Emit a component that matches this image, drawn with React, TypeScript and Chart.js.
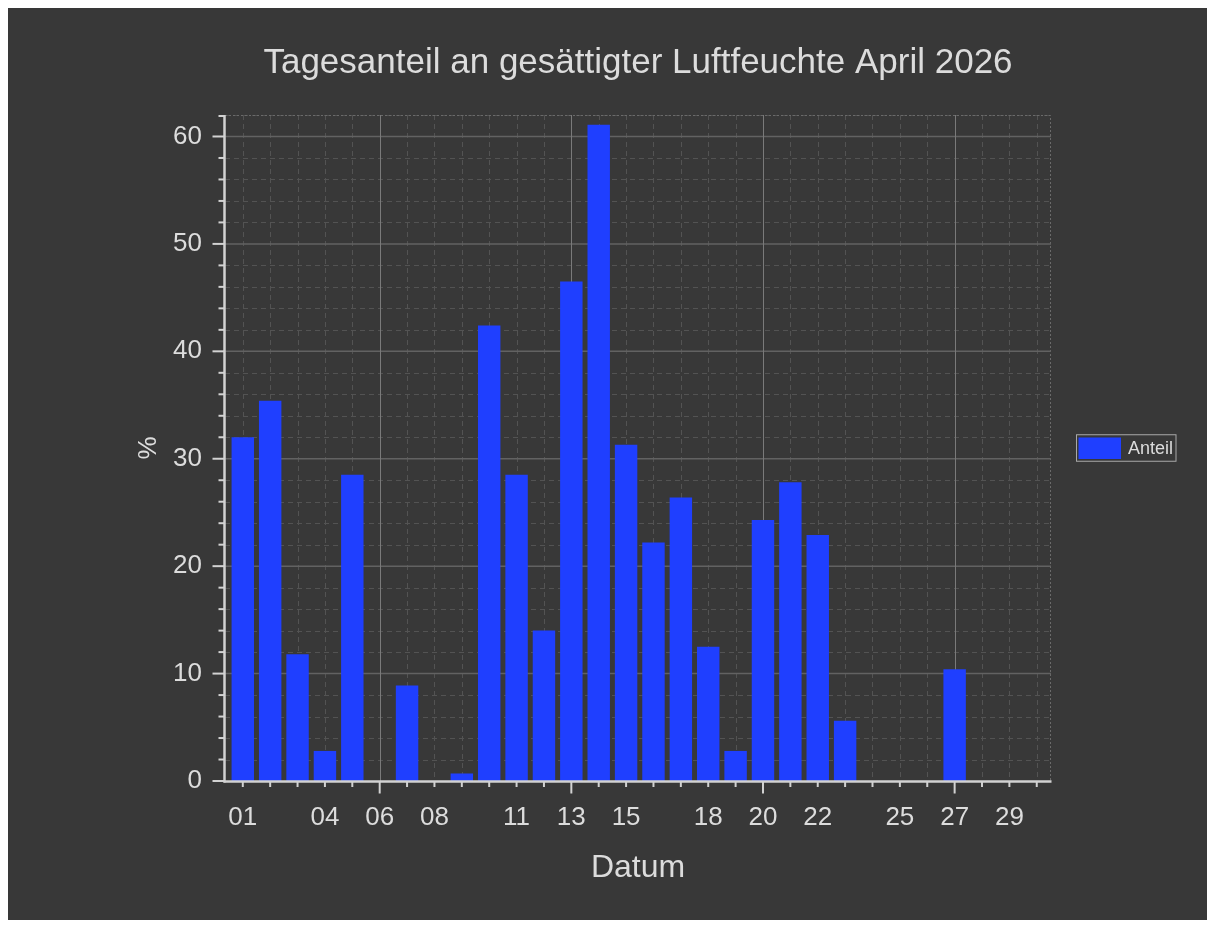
import React, { useEffect, useRef } from 'react';
import { Chart, registerables } from 'chart.js';

Chart.register(...registerables);

// ---- data ----
const days = [1, 2, 3, 4, 5, 6, 7, 8, 9, 10, 11, 12, 13, 14, 15, 16, 17, 18, 19, 20, 21, 22, 23, 24, 25, 26, 27, 28, 29, 30];
const anteil = [32.0, 35.4, 11.8, 2.8, 28.5, 0, 8.9, 0, 0.7, 42.4, 28.5, 14.0, 46.5, 61.1, 31.3, 22.2, 26.4, 12.5, 2.8, 24.3, 27.8, 22.9, 5.6, 0, 0, 0, 10.4, 0, 0, 0];
const xLabelDays = [1, 4, 6, 8, 11, 13, 15, 18, 20, 22, 25, 27, 29];
const xMajorDays = [6, 13, 20, 27];
const yTicks = [0, 10, 20, 30, 40, 50, 60];
const yMinorTicks = [2, 4, 6, 8, 12, 14, 16, 18, 22, 24, 26, 28, 32, 34, 36, 38, 42, 44, 46, 48, 52, 54, 56, 58, 62];
const xRange = [0.35, 30.52];
const yRange = [0, 62];

const TITLE = 'Tagesanteil an gesättigter Luftfeuchte April 2026';
const SERIES = 'Anteil';
const X_TITLE = 'Datum';
const Y_TITLE = '%';

const BG = '#383838';
const BAR = '#1f3fff';
const TEXT = '#dcdcdc';
const AXIS = '#d2d2d2';
const FONT = '"Liberation Sans", Arial, sans-serif';

const decorPlugin = {
  id: 'decor',
  beforeDraw(chart: any) {
    const { ctx, width, height } = chart;
    ctx.save();
    ctx.fillStyle = BG;
    ctx.fillRect(0, 0, width, height);
    ctx.restore();
  },
  beforeDatasetsDraw(chart: any) {
    const { ctx, chartArea: a, scales } = chart;
    const x = scales.x, y = scales.y;
    ctx.save();
    ctx.lineWidth = 1;
    // minor dashed grid
    ctx.strokeStyle = '#535353';
    ctx.setLineDash([5, 4]);
    for (const d of days) {
      if (xMajorDays.includes(d)) continue;
      const px = Math.round(x.getPixelForValue(d)) + 0.5;
      ctx.beginPath(); ctx.moveTo(px, a.top); ctx.lineTo(px, a.bottom); ctx.stroke();
    }
    for (const v of yMinorTicks) {
      const py = Math.round(y.getPixelForValue(v)) + 0.5;
      if (py < a.top) continue;
      ctx.beginPath(); ctx.moveTo(a.left, py); ctx.lineTo(a.right, py); ctx.stroke();
    }
    // frame top/right dotted
    ctx.strokeStyle = '#6a6a6a';
    ctx.setLineDash([2, 2]);
    ctx.beginPath();
    ctx.moveTo(a.left, a.top + 0.5); ctx.lineTo(a.right - 0.5, a.top + 0.5); ctx.lineTo(a.right - 0.5, a.bottom);
    ctx.stroke();
    // major solid grid
    ctx.setLineDash([]);
    ctx.strokeStyle = '#626262';
    ctx.lineWidth = 1.5;
    for (const v of yTicks) {
      if (v === 0) continue;
      const py = y.getPixelForValue(v);
      ctx.beginPath(); ctx.moveTo(a.left, py); ctx.lineTo(a.right, py); ctx.stroke();
    }
    ctx.strokeStyle = '#7a7a7a';
    ctx.lineWidth = 1;
    for (const d of xMajorDays) {
      const px = Math.round(x.getPixelForValue(d)) + 0.5;
      ctx.beginPath(); ctx.moveTo(px, a.top); ctx.lineTo(px, a.bottom); ctx.stroke();
    }
    ctx.restore();
  },
  afterDatasetsDraw(chart: any) {
    const { ctx, chartArea: a, scales } = chart;
    const x = scales.x, y = scales.y;
    ctx.save();
    ctx.strokeStyle = AXIS;
    // axis lines
    ctx.lineWidth = 2.5;
    ctx.beginPath(); ctx.moveTo(a.left - 0.5, a.top); ctx.lineTo(a.left - 0.5, a.bottom + 1.5); ctx.stroke();
    ctx.beginPath(); ctx.moveTo(a.left - 1.5, a.bottom + 0.5); ctx.lineTo(a.right + 0.5, a.bottom + 0.5); ctx.stroke();
    // y ticks
    ctx.lineWidth = 2;
    for (const v of yTicks) {
      const py = y.getPixelForValue(v);
      ctx.beginPath(); ctx.moveTo(a.left - 12.5, py); ctx.lineTo(a.left, py); ctx.stroke();
    }
    for (const v of yMinorTicks) {
      const py = Math.max(y.getPixelForValue(v), a.top + 1);
      ctx.beginPath(); ctx.moveTo(a.left - 6.5, py); ctx.lineTo(a.left, py); ctx.stroke();
    }
    // x ticks
    for (const d of days) {
      const px = x.getPixelForValue(d);
      const len = xMajorDays.includes(d) ? 12.5 : 6;
      ctx.beginPath(); ctx.moveTo(px, a.bottom); ctx.lineTo(px, a.bottom + len); ctx.stroke();
    }
    ctx.restore();
  },
  afterDraw(chart: any) {
    const { ctx, chartArea: a } = chart;
    const cy = (a.top + a.bottom) / 2;
    const left = a.right + 25;
    const w = 99.5, h = 26.5;
    ctx.save();
    ctx.strokeStyle = '#a8a8a8';
    ctx.lineWidth = 1;
    ctx.strokeRect(left + 0.5, cy - h / 2, w, h);
    ctx.fillStyle = BAR;
    ctx.fillRect(left + 2.5, cy - 10.5, 42.5, 21.5);
    ctx.fillStyle = TEXT;
    ctx.font = `18px ${FONT}`;
    ctx.textBaseline = 'middle';
    ctx.textAlign = 'left';
    ctx.fillText(SERIES, left + 52, cy + 1);
    ctx.restore();
  },
};

export default function App() {
  const ref = useRef<HTMLCanvasElement | null>(null);
  useEffect(() => {
    if (!ref.current) return;
    const chart = new Chart(ref.current, {
      type: 'bar',
      data: {
        datasets: [
          {
            label: SERIES,
            data: days.map((d, i) => ({ x: d, y: anteil[i] })),
            backgroundColor: BAR,
            borderWidth: 0,
            barPercentage: 1,
            categoryPercentage: 0.82,
          },
        ],
      },
      options: {
        animation: false,
        responsive: false,
        devicePixelRatio: 1,
        layout: { padding: { left: 61, right: 0, top: 0, bottom: 0 } },
        plugins: {
          legend: { display: false },
          tooltip: { enabled: false },
          title: {
            display: true,
            text: TITLE,
            color: TEXT,
            font: { family: FONT, size: 35, weight: 'normal' },
            padding: { top: 34, bottom: 31 },
          },
        },
        scales: {
          x: {
            type: 'linear',
            min: xRange[0],
            max: xRange[1],
            offset: false,
            grid: { display: false, drawTicks: false, offset: false },
            border: { display: false },
            afterBuildTicks: (s: any) => { s.ticks = xLabelDays.map((v) => ({ value: v })); },
            afterFit: (s: any) => { s.height = 139; },
            ticks: {
              autoSkip: false,
              maxRotation: 0,
              padding: 21,
              color: TEXT,
              font: { family: FONT, size: 26 },
              callback: (v: any) => String(v).padStart(2, '0'),
            },
            title: {
              display: true,
              text: X_TITLE,
              color: TEXT,
              font: { family: FONT, size: 32 },
              padding: { top: 0, bottom: 33 },
            },
          },
          y: {
            type: 'linear',
            position: 'left',
            min: yRange[0],
            max: yRange[1],
            grid: { display: false, drawTicks: false },
            border: { display: false },
            afterBuildTicks: (s: any) => { s.ticks = yTicks.map((v) => ({ value: v })); },
            afterFit: (s: any) => { s.width = 156; },
            ticks: {
              padding: 23,
              color: TEXT,
              font: { family: FONT, size: 26 },
            },
            title: {
              display: true,
              text: Y_TITLE,
              color: TEXT,
              font: { family: FONT, size: 26 },
              padding: { top: 64, bottom: 0 },
            },
          },
          yRight: {
            type: 'linear',
            position: 'right',
            display: true,
            grid: { display: false, drawTicks: false },
            border: { display: false },
            ticks: { display: false },
            afterFit: (s: any) => { s.width = 156; },
          },
        },
      } as any,
      plugins: [decorPlugin],
    });
    return () => chart.destroy();
  }, []);

  return (
    <div style={{ width: 1199, height: 912, background: BG }}>
      <canvas ref={ref} width={1199} height={912} style={{ display: 'block', width: 1199, height: 912 }} />
    </div>
  );
}
